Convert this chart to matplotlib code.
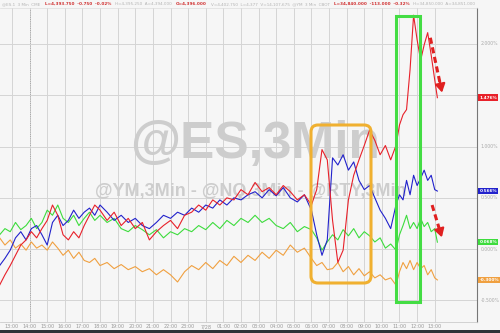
import matplotlib
matplotlib.use('Agg')
import matplotlib.pyplot as plt
from matplotlib.patches import FancyBboxPatch, Rectangle
import matplotlib.transforms as mtransforms

# %% data: hours since 13:00 on the first day, % change
hours = [-0.7, -0.4, -0.1, 0.2, 0.5, 0.8, 1.1, 1.4, 1.7, 2.0, 2.3, 2.6, 2.9, 3.2, 3.5, 3.8,
         4.1, 4.4, 4.7, 5.0, 5.4, 5.8, 6.2, 6.6, 7.0, 7.4, 7.8, 8.2, 8.6, 9.0, 9.4, 9.8,
         10.2, 10.6, 11.0, 11.4, 11.8, 12.2, 12.6, 13.0, 13.4, 13.8, 14.2, 14.6, 15.0, 15.4,
         15.8, 16.2, 16.6, 17.0, 17.3, 17.6, 17.9, 18.2, 18.5, 18.8, 19.1, 19.4, 19.7, 20.0,
         20.3, 20.6, 20.9, 21.2, 21.5, 21.8, 22.0, 22.2, 22.4, 22.6, 22.8, 23.0, 23.2, 23.4,
         23.6, 23.8, 24.0, 24.15]

nq = [-0.35, -0.25, -0.16, -0.06, 0.04, 0.09, 0.17, 0.11, 0.20, 0.28, 0.43, 0.33, 0.14, 0.09, 0.17, 0.11,
      0.23, 0.33, 0.43, 0.38, 0.28, 0.36, 0.23, 0.30, 0.20, 0.26, 0.09, 0.17, 0.23, 0.28, 0.20, 0.33,
      0.36, 0.43, 0.38, 0.48, 0.43, 0.50, 0.48, 0.58, 0.53, 0.65, 0.56, 0.60, 0.53, 0.62,
      0.56, 0.48, 0.53, 0.43, 0.58, 0.97, 0.87, 0.28, -0.13, -0.01, 0.48, 0.72, 0.87, 1.01,
      1.16, 1.06, 0.92, 1.01, 0.87, 1.01, 1.21, 1.31, 1.36, 1.75, 2.28, 2.04, 1.84, 1.99,
      2.11, 1.89, 1.65, 1.476]

es = [-0.16, -0.09, -0.01, 0.11, 0.17, 0.09, 0.20, 0.23, 0.14, 0.04, 0.26, 0.33, 0.23, 0.28, 0.38, 0.30,
      0.36, 0.40, 0.33, 0.43, 0.36, 0.28, 0.33, 0.26, 0.30, 0.23, 0.20, 0.26, 0.33, 0.30, 0.36, 0.33,
      0.40, 0.36, 0.43, 0.40, 0.48, 0.43, 0.50, 0.48, 0.53, 0.56, 0.50, 0.58, 0.52, 0.60,
      0.50, 0.46, 0.53, 0.38, 0.14, -0.06, 0.09, 0.89, 0.82, 0.92, 0.77, 0.85, 0.67, 0.58,
      0.62, 0.50, 0.38, 0.30, 0.20, 0.43, 0.53, 0.48, 0.67, 0.53, 0.72, 0.62, 0.69, 0.77,
      0.67, 0.72, 0.58, 0.566]

ym = [0.14, 0.20, 0.17, 0.26, 0.19, 0.23, 0.30, 0.20, 0.26, 0.38, 0.33, 0.43, 0.30, 0.26, 0.33, 0.23,
      0.30, 0.36, 0.28, 0.33, 0.26, 0.30, 0.20, 0.17, 0.23, 0.19, 0.14, 0.19, 0.11, 0.17, 0.14, 0.20,
      0.17, 0.23, 0.19, 0.26, 0.20, 0.28, 0.23, 0.30, 0.26, 0.33, 0.26, 0.30, 0.23, 0.20,
      0.26, 0.17, 0.22, 0.19, 0.11, -0.01, 0.07, 0.14, 0.09, 0.19, 0.13, 0.20, 0.11, 0.17,
      0.13, 0.07, 0.11, 0.01, 0.05, -0.01, 0.14, 0.23, 0.33, 0.20, 0.26, 0.20, 0.30, 0.22,
      0.26, 0.17, 0.20, 0.068]

rty = [0.11, 0.04, 0.09, 0.01, 0.05, -0.01, 0.07, 0.01, 0.04, -0.01, 0.07, 0.01, -0.06, -0.01, -0.09, -0.03,
       -0.11, -0.13, -0.09, -0.16, -0.13, -0.19, -0.15, -0.20, -0.17, -0.22, -0.19, -0.25, -0.20, -0.25, -0.32, -0.22,
       -0.16, -0.20, -0.13, -0.19, -0.11, -0.16, -0.07, -0.13, -0.06, -0.11, -0.03, -0.09, -0.01, -0.06,
       0.04, -0.03, 0.01, -0.09, -0.16, -0.13, -0.20, -0.19, -0.13, -0.22, -0.17, -0.25, -0.19, -0.26,
       -0.22, -0.28, -0.25, -0.30, -0.28, -0.35, -0.22, -0.13, -0.19, -0.11, -0.20, -0.13, -0.19, -0.16,
       -0.25, -0.20, -0.28, -0.30]

series_colors = ['#e8212a', '#2222cc', '#3ddc3d', '#f0a040']
last_labels = ['1.476%', '0.566%', '0.068%', '-0.300%']

grid_pct = [2.0, 1.0, 0.5, 0.0, -0.5]
grid_labels = ['2.000%', '1.000%', '0.500%', '0.000%', '-0.500%']
tick_hours = list(range(0, 25))
tick_labels = ['13:00', '14:00', '15:00', '16:00', '17:00', '18:00', '19:00', '20:00', '21:00',
               '22:00', '23:00', '7/28', '01:00', '02:00', '03:00', '04:00', '05:00', '06:00',
               '07:00', '08:00', '09:00', '10:00', '11:00', '12:00', '13:00']

header_parts = [('@ES.1  3 Min  CME', '#b4b4b4'),
                ('L=4,393.750  -0.750  -0.02%', '#d03030'),
                ('H=4,395.250  A=4,394.000', '#b4b4b4'),
                ('O=4,396.000', '#d03030'),
                ('V=4,402.750  L=4,377  V=14,107,675  @YM  3 Min  CBOT', '#b4b4b4'),
                ('L=34,840.000  -113.000  -0.32%', '#d03030'),
                ('H=34,850.000  A=34,851.000', '#b4b4b4')]

# %%
bg = '#f6f6f6'
fig = plt.figure(figsize=(5, 3.33), dpi=100, facecolor=bg)
ax = fig.add_axes([0, 11 / 333, 477 / 500, 314 / 333], facecolor=bg)
ax.set_xlim(-0.68, 26.4)
ax.set_ylim(-0.71, 2.35)

for h in tick_hours:
    ax.axvline(h, color='#d4d4d4', lw=0.7, zorder=0)
ax.axvline(1, color='#999999', lw=0.6, ls=':', zorder=0)
for p in grid_pct + [1.5]:
    ax.axhline(p, color='#d4d4d4', lw=0.7, zorder=0)

# watermark
ax.text(0.535, 0.565, '@ES,3Min', transform=ax.transAxes, ha='center', va='center',
        fontsize=37, fontweight='bold', family='Liberation Sans', color='#cdcdcd', zorder=1)
ax.text(0.525, 0.415, '@YM,3Min - @NQ,3Min - @RTY,3Min', transform=ax.transAxes, ha='center',
        va='center', fontsize=13, fontweight='bold', family='Liberation Sans', color='#cdcdcd', zorder=1)

for vals, c in zip([rty, ym, es, nq], series_colors[::-1]):
    ax.plot(hours, vals, color=c, lw=0.8, zorder=3)

for s in ['top', 'left']:
    ax.spines[s].set_visible(False)
ax.spines['right'].set_color('#777777')
ax.spines['right'].set_linewidth(0.8)
ax.spines['bottom'].set_color('#cccccc')
ax.spines['bottom'].set_linewidth(0.6)
ax.set_yticks([])
ax.set_xticks(tick_hours)
ax.set_xticklabels(tick_labels)
ax.tick_params(axis='x', length=0, labelsize=3.5, labelcolor='#999999', pad=1.5)

# right axis labels
trans = mtransforms.blended_transform_factory(ax.transAxes, ax.transData)
for p, lab in zip(grid_pct, grid_labels):
    ax.text(1.008, p, lab, transform=trans, fontsize=3.3, color='#aaaaaa', va='center', ha='left',
            clip_on=False)
for vals, c, lab in zip([nq, es, ym, rty], series_colors, last_labels):
    ax.text(1.005, vals[-1], lab, transform=trans, fontsize=3.1, color='white', va='center', ha='left',
            fontweight='bold', clip_on=False, zorder=5,
            bbox=dict(boxstyle='square,pad=0.3', fc=c, ec='none'))

# highlight boxes (pixel layout, inches from bottom-left)
orange_box = FancyBboxPatch((3.11, 0.50), 0.60, 1.58, boxstyle='round,pad=0,rounding_size=0.07',
                            transform=fig.dpi_scale_trans, fc='none', ec='#f0b030', lw=2.2,
                            zorder=6, clip_on=False)
fig.patches.append(orange_box)
green_box = Rectangle((3.96, 0.31), 0.24, 2.86, transform=fig.dpi_scale_trans, fc='none',
                      ec='#44dd44', lw=2.2, zorder=6, clip_on=False)
fig.patches.append(green_box)

# red dashed arrows
for (x0, y0), (x1, y1) in [((23.75, 2.06), (24.45, 1.50)), ((23.85, 0.43), (24.45, 0.09))]:
    ax.plot([x0, x1 - (x1 - x0) * 0.15], [y0, y1 - (y1 - y0) * 0.15], color='#e02020', lw=2.2,
            ls=(0, (2, 1.2)), zorder=6, solid_capstyle='butt')
    ax.annotate('', xy=(x1, y1), xytext=(x1 - (x1 - x0) * 0.3, y1 - (y1 - y0) * 0.3),
                arrowprops=dict(arrowstyle='-|>,head_length=0.5,head_width=0.3', color='#e02020', lw=1.5),
                zorder=6)

# header, pieces laid one after another
hy = 1 - 4 / 333
renderer = fig.canvas.get_renderer()
x = 0.005
for txt, c in header_parts:
    t = fig.text(x, hy, txt, fontsize=3.0, color=c, va='center',
                 fontweight='bold' if c != '#b4b4b4' else 'normal')
    bb = t.get_window_extent(renderer)
    x = bb.x1 / fig.bbox.width + 0.008
fig.add_artist(plt.Line2D([0, 477 / 500], [1 - 8 / 333, 1 - 8 / 333], transform=fig.transFigure,
                          color='#dddddd', lw=0.5))

# bottom dark bar
fig.add_artist(Rectangle((0, 0), 1, 3 / 333, transform=fig.transFigure, fc='#2e3338', ec='none'))

fig.savefig('out.png', dpi=100, facecolor=bg)
